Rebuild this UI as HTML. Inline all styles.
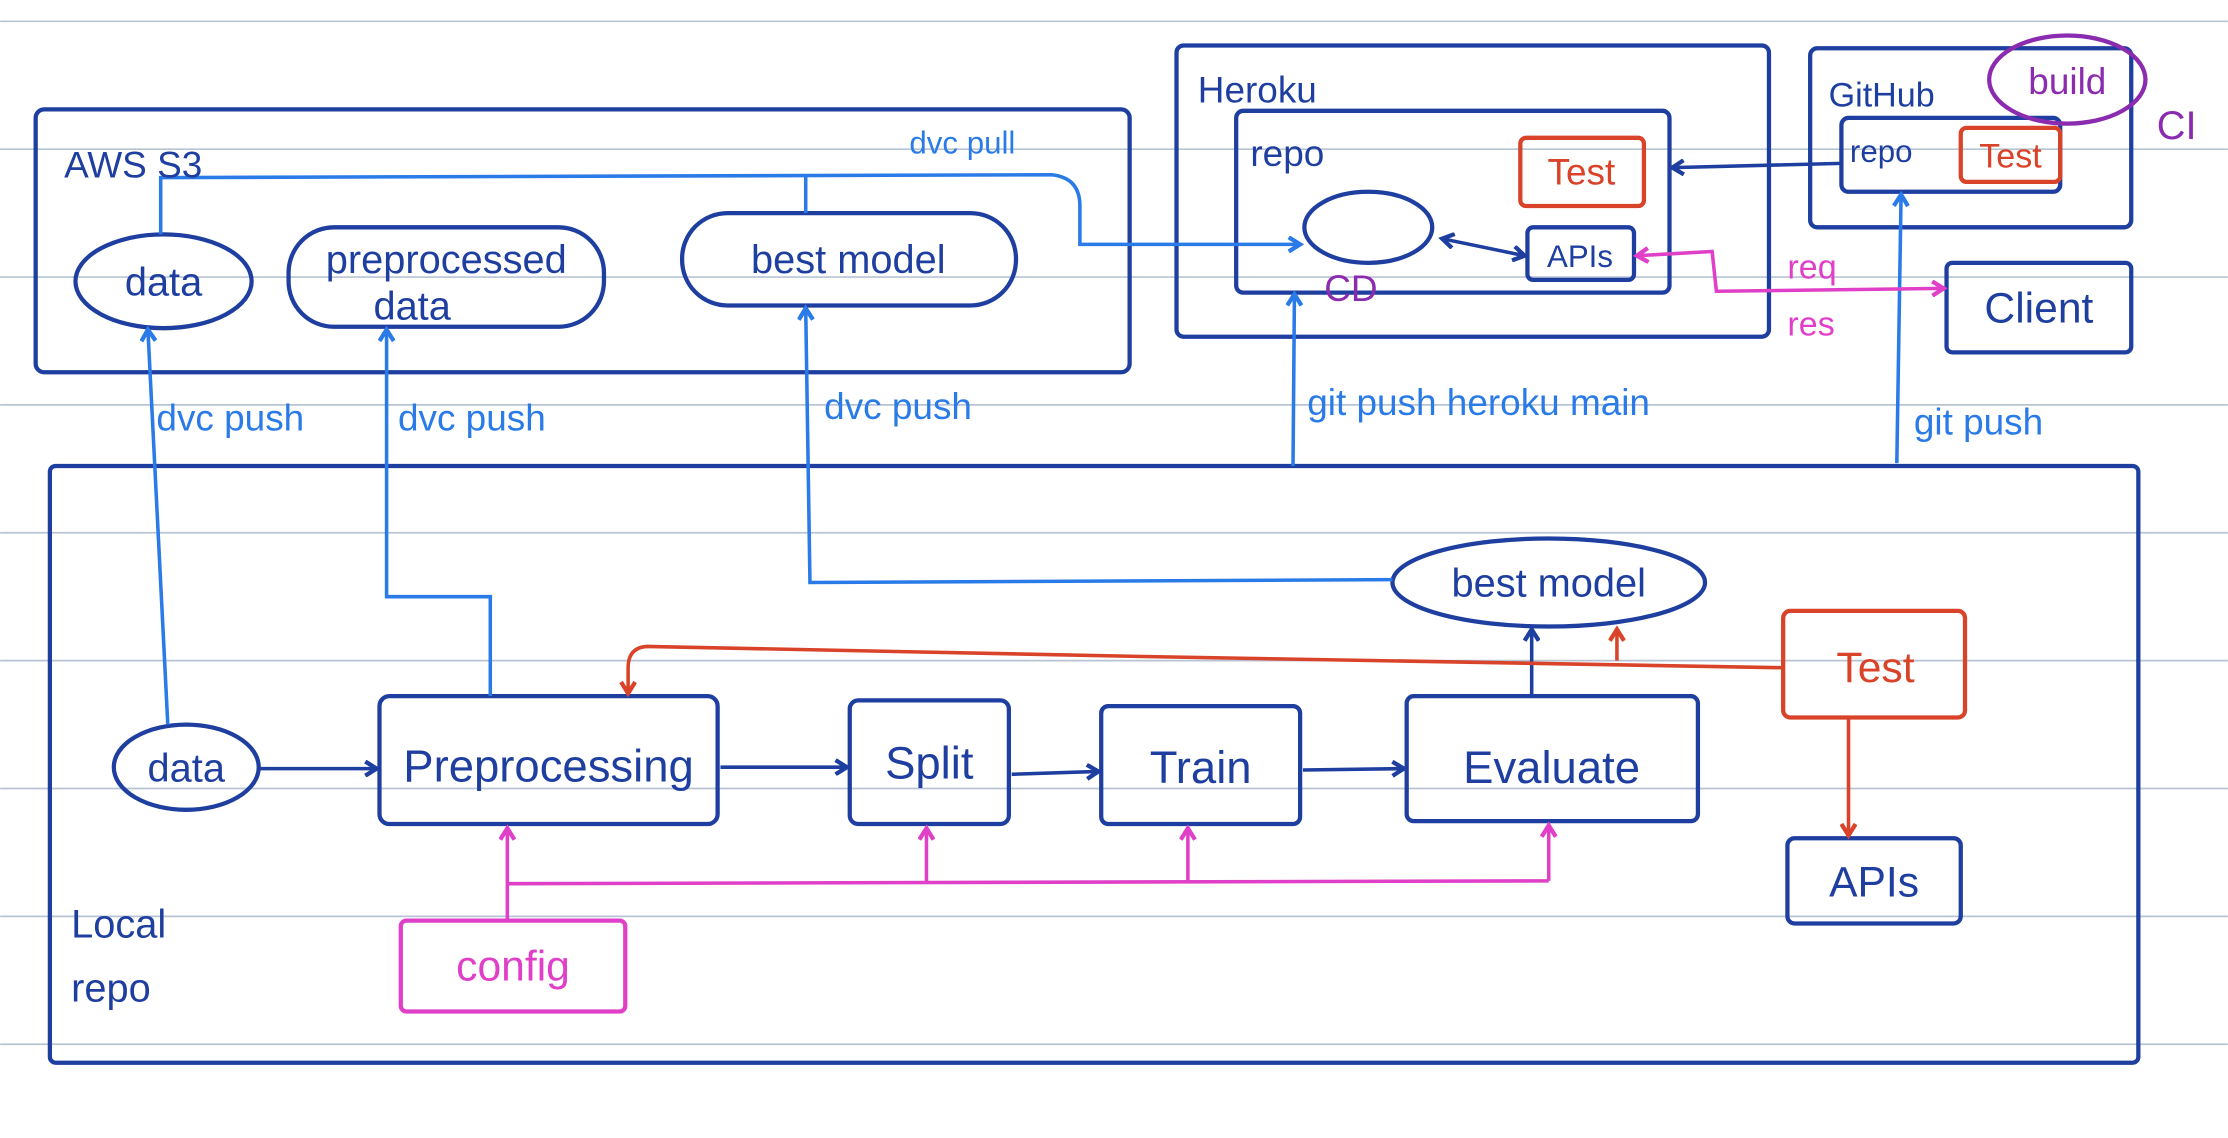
<!DOCTYPE html>
<html><head><meta charset="utf-8"><style>
html,body{margin:0;padding:0;background:#fff;}
svg{display:block;}
text{font-family:"Liberation Sans",sans-serif;}
</style></head><body>
<svg width="2228" height="1138" viewBox="0 0 1568 801" xmlns="http://www.w3.org/2000/svg">
<defs>
<marker id="ab" markerWidth="12" markerHeight="12" refX="9" refY="6" orient="auto" markerUnits="userSpaceOnUse"><path d="M1,1 L9,6 L1,11" fill="none" stroke="#2a7be8" stroke-width="3"/></marker>
<marker id="ad" markerWidth="12" markerHeight="12" refX="9" refY="6" orient="auto" markerUnits="userSpaceOnUse"><path d="M1,1 L9,6 L1,11" fill="none" stroke="#1f3fa0" stroke-width="3"/></marker>
<marker id="ar" markerWidth="12" markerHeight="12" refX="9" refY="6" orient="auto" markerUnits="userSpaceOnUse"><path d="M1,1 L9,6 L1,11" fill="none" stroke="#d9432a" stroke-width="3"/></marker>
<marker id="am" markerWidth="12" markerHeight="12" refX="9" refY="6" orient="auto" markerUnits="userSpaceOnUse"><path d="M1,1 L9,6 L1,11" fill="none" stroke="#e040c8" stroke-width="3"/></marker>
<marker id="dbs" markerWidth="12" markerHeight="12" refX="3" refY="6" orient="auto" markerUnits="userSpaceOnUse"><path d="M11,1 L3,6 L11,11" fill="none" stroke="#1f3fa0" stroke-width="3"/></marker>
<marker id="ams" markerWidth="12" markerHeight="12" refX="3" refY="6" orient="auto" markerUnits="userSpaceOnUse"><path d="M11,1 L3,6 L11,11" fill="none" stroke="#e040c8" stroke-width="3"/></marker>
</defs>
<g stroke="#b8c4d4" stroke-width="1.2">
<line x1="0" y1="15" x2="1568" y2="15"/><line x1="0" y1="105" x2="1568" y2="105"/><line x1="0" y1="195" x2="1568" y2="195"/><line x1="0" y1="285" x2="1568" y2="285"/><line x1="0" y1="375" x2="1568" y2="375"/><line x1="0" y1="465" x2="1568" y2="465"/><line x1="0" y1="555" x2="1568" y2="555"/><line x1="0" y1="645" x2="1568" y2="645"/><line x1="0" y1="735" x2="1568" y2="735"/>
</g>
<g fill="none" stroke="#1f3fa0" stroke-width="3">
<rect x="25" y="77" width="770" height="185" rx="6"/>
<ellipse cx="115" cy="198" rx="62" ry="33"/>
<rect x="203" y="160" width="222" height="70" rx="32"/>
<rect x="480" y="150" width="235" height="65" rx="32"/>
<rect x="828" y="32" width="417" height="205" rx="5"/>
<rect x="870" y="78" width="305" height="128" rx="5"/>
<ellipse cx="963" cy="160" rx="45" ry="25"/>
<rect x="1075" y="160" width="75" height="37" rx="4"/>
<rect x="1274" y="34" width="226" height="126" rx="5"/>
<rect x="1296" y="83" width="154" height="52" rx="5"/>
<rect x="1370" y="185" width="130" height="63" rx="4"/>
<rect x="35" y="328" width="1470" height="420" rx="4"/>
<ellipse cx="131" cy="540" rx="51" ry="30"/>
<rect x="267" y="490" width="238" height="90" rx="7"/>
<rect x="598" y="493" width="112" height="87" rx="6"/>
<rect x="775" y="497" width="140" height="83" rx="5"/>
<rect x="990" y="490" width="205" height="88" rx="5"/>
<ellipse cx="1090" cy="410" rx="110" ry="31"/>
<rect x="1258" y="590" width="122" height="60" rx="5"/>
</g>
<g fill="none" stroke="#d9432a" stroke-width="3">
<rect x="1070" y="97" width="87" height="48" rx="4"/>
<rect x="1380" y="90" width="70" height="38" rx="4"/>
<rect x="1255" y="430" width="128" height="75" rx="5"/>
</g>
<rect x="282" y="648" width="158" height="64" rx="4" fill="none" stroke="#e040c8" stroke-width="3"/>
<ellipse cx="1455" cy="56" rx="55" ry="31" fill="none" stroke="#8a2bb0" stroke-width="3"/>
<!-- blue connectors -->
<g fill="none" stroke="#2a7be8" stroke-width="2.5">
<path d="M113,165 L113,125 L740,123 Q760,125 760,145 L760,172 L915,172" marker-end="url(#ab)"/>
<path d="M567,150 L567,124"/>
<path d="M118,510 L104,232" marker-end="url(#ab)"/>
<path d="M345,490 L345,420 L272,420 L272,232" marker-end="url(#ab)"/>
<path d="M980,408 L570,410 L567,217" marker-end="url(#ab)"/>
<path d="M910,328 L911,207" marker-end="url(#ab)"/>
<path d="M1335,326 L1338,137" marker-end="url(#ab)"/>
</g>
<g fill="none" stroke="#1f3fa0" stroke-width="2.5">
<path d="M1296,115 L1177,118" marker-end="url(#ad)"/>
<path d="M1015,168 L1073,180" marker-start="url(#dbs)" marker-end="url(#ad)"/>
<path d="M183,541 L265,541" marker-end="url(#ad)"/>
<path d="M507,540 L596,540" marker-end="url(#ad)"/>
<path d="M712,545 L773,543" marker-end="url(#ad)"/>
<path d="M917,542 L988,541" marker-end="url(#ad)"/>
<path d="M1078,490 L1078,443" marker-end="url(#ad)"/>
</g>
<g fill="none" stroke="#d9432a" stroke-width="2.5">
<path d="M1255,470 L800,462 L455,455 Q442,456 442,470 L442,488" marker-end="url(#ar)"/>
<path d="M1138,465 L1138,443" marker-end="url(#ar)"/>
<path d="M1301,505 L1301,588" marker-end="url(#ar)"/>
</g>
<g fill="none" stroke="#e040c8" stroke-width="2.5">
<path d="M1152,180 L1205,177 L1208,205 L1368,203" marker-start="url(#ams)" marker-end="url(#am)"/>
<path d="M357,648 L357,583" marker-end="url(#am)"/>
<path d="M357,622 L1090,620"/>
<path d="M652,622 L652,583" marker-end="url(#am)"/>
<path d="M836,621 L836,583" marker-end="url(#am)"/>
<path d="M1090,620 L1090,581" marker-end="url(#am)"/>
</g>
<!-- labels -->
<g fill="#1f3fa0" font-size="28">
<text x="45" y="125" font-size="26">AWS S3</text>
<text x="115" y="208" text-anchor="middle">data</text>
<text x="314" y="192" text-anchor="middle">preprocessed</text>
<text x="290" y="225" text-anchor="middle">data</text>
<text x="597" y="192" text-anchor="middle">best model</text>
<text x="843" y="72" font-size="26">Heroku</text>
<text x="880" y="117" font-size="26">repo</text>
<text x="1112" y="188" text-anchor="middle" font-size="22">APIs</text>
<text x="1287" y="75" font-size="24">GitHub</text>
<text x="1302" y="114" font-size="22">repo</text>
<text x="1435" y="227" text-anchor="middle" font-size="30">Client</text>
<text x="131" y="550" text-anchor="middle">data</text>
<text x="386" y="550" text-anchor="middle" font-size="32">Preprocessing</text>
<text x="654" y="548" text-anchor="middle" font-size="32">Split</text>
<text x="845" y="551" text-anchor="middle" font-size="32">Train</text>
<text x="1092" y="551" text-anchor="middle" font-size="32">Evaluate</text>
<text x="1090" y="420" text-anchor="middle">best model</text>
<text x="1319" y="631" text-anchor="middle" font-size="30">APIs</text>
<text x="50" y="660" font-size="28">Local</text>
<text x="50" y="705" font-size="28">repo</text>
</g>
<g fill="#d9432a">
<text x="1113" y="130" text-anchor="middle" font-size="26">Test</text>
<text x="1415" y="118" text-anchor="middle" font-size="24">Test</text>
<text x="1320" y="480" text-anchor="middle" font-size="30">Test</text>
</g>
<g fill="#8a2bb0">
<text x="1455" y="66" text-anchor="middle" font-size="26">build</text>
<text x="1518" y="98" font-size="28">CI</text>
<text x="932" y="212" font-size="26">CD</text>
</g>
<g fill="#e040c8">
<text x="361" y="690" text-anchor="middle" font-size="30">config</text>
<text x="1258" y="196" font-size="24">req</text>
<text x="1258" y="236" font-size="24">res</text>
</g>
<g fill="#2a7be8" font-size="26">
<text x="640" y="108" font-size="22">dvc pull</text>
<text x="110" y="303">dvc push</text>
<text x="280" y="303">dvc push</text>
<text x="580" y="295">dvc push</text>
<text x="920" y="292">git push heroku main</text>
<text x="1347" y="306">git push</text>
</g>
</svg>
</body></html>
